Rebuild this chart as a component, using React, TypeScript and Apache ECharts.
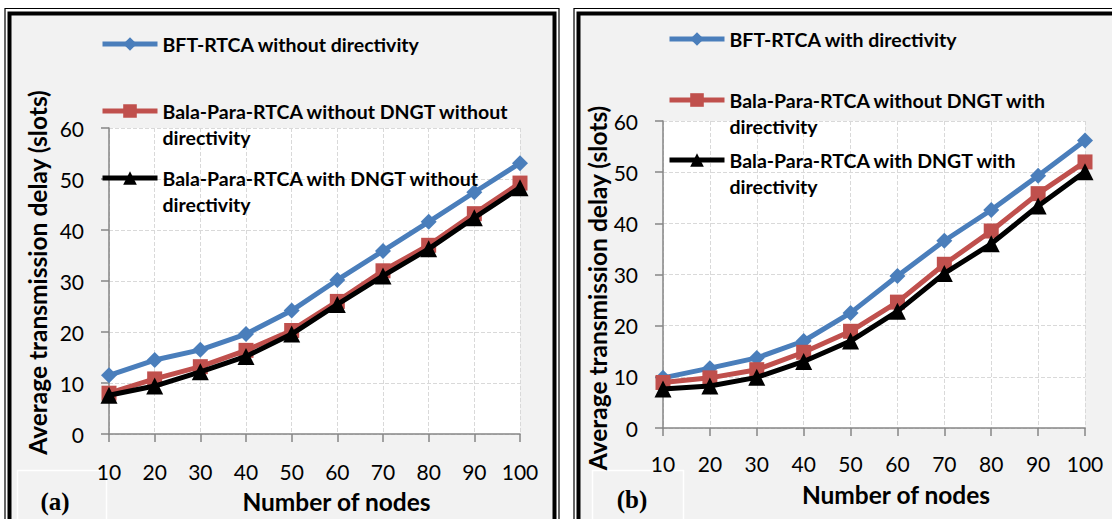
import React, { useEffect, useRef } from "react";
import * as echarts from "echarts";

const nodes = [10, 20, 30, 40, 50, 60, 70, 80, 90, 100];

const bftA = [11.5, 14.5, 16.5, 19.6, 24.2, 30.2, 35.9, 41.6, 47.4, 53.1];
const paraA = [8.0, 10.8, 13.2, 16.4, 20.3, 26.0, 32.0, 37.0, 43.2, 49.2];
const dngtA = [7.6, 9.4, 12.2, 15.2, 19.6, 25.4, 31.0, 36.3, 42.4, 48.3];

const bftB = [9.8, 11.7, 13.7, 17.0, 22.5, 29.7, 36.6, 42.6, 49.3, 56.2];
const paraB = [8.9, 9.8, 11.4, 14.8, 18.9, 24.6, 32.0, 38.5, 45.8, 52.0];
const dngtB = [7.6, 8.2, 9.9, 13.0, 17.0, 22.8, 30.2, 36.0, 43.4, 50.1];

const namesA = [
  "BFT-RTCA without directivity",
  "Bala-Para-RTCA without DNGT without directivity",
  "Bala-Para-RTCA with DNGT without directivity",
];
const namesB = [
  "BFT-RTCA with directivity",
  "Bala-Para-RTCA without DNGT with directivity",
  "Bala-Para-RTCA with DNGT with directivity",
];
const legendTextA = [
  "BFT-RTCA without directivity",
  "Bala-Para-RTCA without DNGT without\ndirectivity",
  "Bala-Para-RTCA with DNGT without\ndirectivity",
];
const legendTextB = [
  "BFT-RTCA with directivity",
  "Bala-Para-RTCA without DNGT with\ndirectivity",
  "Bala-Para-RTCA with DNGT with\ndirectivity",
];

const yTitle = "Average transmission delay (slots)";
const xTitle = "Number of nodes";
const panelLabels = ["(a)", "(b)"];

const FONT = "Lato, 'Open Sans', sans-serif";
const BLUE = "#4a7ebb";
const RED = "#c0504d";
const BLACK = "#000000";

function pairs(vals: number[]) {
  return vals.map((v, i) => [nodes[i], v]);
}

export default function App() {
  const ref = useRef<HTMLDivElement>(null);
  useEffect(() => {
    if (!ref.current) return;
    const chart = echarts.init(ref.current, null, { renderer: "svg" });

    const grids = [
      { left: 109, top: 128, width: 411, height: 306 },
      { left: 663, top: 121, width: 422, height: 307 },
    ];

    const xAxis = grids.map((g, i) => ({
      type: "value",
      gridIndex: i,
      min: 10,
      max: 100,
      interval: 10,
      name: xTitle,
      nameLocation: "middle",
      nameGap: i === 0 ? 55 : 54,
      nameTextStyle: {
        fontFamily: FONT,
        fontWeight: "bold",
        fontSize: 24.5,
        color: "#000",
        padding: [0, 0, 0, 44],
      },
      axisLine: { show: true, onZero: false, lineStyle: { color: "#868686", width: 1.5 } },
      axisTick: { show: true, length: 8, lineStyle: { color: "#868686", width: 1.5 } },
      axisLabel: { fontFamily: FONT, fontSize: 21, color: "#000", margin: i === 0 ? 27 : 25 },
      splitLine: { show: true, lineStyle: { color: "#d9d9d9", type: "dashed", width: 1 } },
    }));

    const yAxis = grids.map((g, i) => ({
      type: "value",
      gridIndex: i,
      min: 0,
      max: 60,
      interval: 10,
      name: yTitle,
      nameLocation: "middle",
      nameGap: i === 0 ? 59 : 49,
      nameTextStyle: {
        fontFamily: FONT,
        fontWeight: "bold",
        fontSize: 24.5,
        color: "#000",
        padding: i === 0 ? [0, 0, 0, 17] : [0, 27, 0, 0],
      },
      axisLine: { show: true, lineStyle: { color: "#868686", width: 1.5 } },
      axisTick: { show: true, length: 8, lineStyle: { color: "#868686", width: 1.5 } },
      axisLabel: { fontFamily: FONT, fontSize: 21, color: "#000", margin: 25 },
      splitLine: { show: true, lineStyle: { color: "#d9d9d9", type: "dashed", width: 1 } },
    }));

    const mk = (name: string, data: number[], idx: number, kind: number) => {
      const color = kind === 0 ? BLUE : kind === 1 ? RED : BLACK;
      return {
        type: "line",
        name,
        xAxisIndex: idx,
        yAxisIndex: idx,
        data: pairs(data),
        symbol: kind === 0 ? "diamond" : kind === 1 ? "rect" : "triangle",
        symbolSize: kind === 0 ? 16 : kind === 1 ? 15 : 17,
        lineStyle: { color, width: 5 },
        itemStyle: { color, borderColor: color, borderWidth: 0 },
        z: 2 + kind,
      };
    };

    const series = [
      mk(namesA[0], bftA, 0, 0),
      mk(namesA[1], paraA, 0, 1),
      mk(namesA[2], dngtA, 0, 2),
      mk(namesB[0], bftB, 1, 0),
      mk(namesB[1], paraB, 1, 1),
      mk(namesB[2], dngtB, 1, 2),
    ];

    // icon centre y for each entry
    const legendCenters = [
      [44, 111, 178],
      [39, 100, 160],
    ];
    const legendLefts = [100, 667];
    const LH = 26;
    const legends: any[] = [];
    [namesA, namesB].forEach((names, p) => {
      const texts = p === 0 ? legendTextA : legendTextB;
      names.forEach((n, k) => {
        const two = texts[k].includes("\n");
        const label = two ? "\n" + texts[k] : texts[k];
        const half = two ? LH * 1.5 : LH / 2;
        legends.push({
          data: [n],
          left: legendLefts[p],
          top: legendCenters[p][k] - half,
          orient: "vertical",
          padding: 0,
          itemWidth: 55,
          itemHeight: 17,
          selectedMode: false,
          lineStyle: { width: 5 },
          formatter: () => label,
          textStyle: {
            fontFamily: FONT,
            fontWeight: "bold",
            fontSize: 19.5,
            color: "#000",
            lineHeight: LH,
          },
        });
      });
    });

    const frame = (x0: number) => [
      {
        type: "rect",
        z: -20,
        shape: { x: x0 + 0.5, y: 8.5, width: 554, height: 540 },
        style: { fill: "#ffffff", stroke: "#000", lineWidth: 1.2 },
      },
      {
        type: "rect",
        z: -19,
        shape: { x: x0 + 5, y: 13.5, width: 545, height: 540 },
        style: { fill: "#f2f2f2", stroke: "#000", lineWidth: 4 },
      },
    ];

    const graphic: any[] = [
      ...frame(4.5),
      ...frame(573.5),
      {
        type: "rect",
        z: -5,
        shape: { x: 17.5, y: 470.5, width: 89, height: 60 },
        style: { fill: "#f2f2f2", stroke: "#ffffff", lineWidth: 1.5 },
      },
      {
        type: "rect",
        z: -5,
        shape: { x: 592.5, y: 470.5, width: 91, height: 60 },
        style: { fill: "#f2f2f2", stroke: "#ffffff", lineWidth: 1.5 },
      },
      {
        type: "text",
        z: 10,
        x: 55,
        y: 501,
        style: {
          text: panelLabels[0],
          fontFamily: "'Liberation Serif', 'DejaVu Serif', serif",
          fontWeight: "bold",
          fontSize: 25,
          fill: "#000",
          textAlign: "center",
          textVerticalAlign: "middle",
        },
      },
      {
        type: "text",
        z: 10,
        x: 632,
        y: 499,
        style: {
          text: panelLabels[1],
          fontFamily: "'Liberation Serif', 'DejaVu Serif', serif",
          fontWeight: "bold",
          fontSize: 25,
          fill: "#000",
          textAlign: "center",
          textVerticalAlign: "middle",
        },
      },
    ];

    chart.setOption({
      animation: false,
      backgroundColor: "#ffffff",
      grid: grids.map((g) => ({
        ...g,
        show: true,
        backgroundColor: "#ffffff",
        borderWidth: 0,
        containLabel: false,
        outerBoundsMode: "none",
      })),
      xAxis,
      yAxis,
      legend: legends,
      graphic,
      series,
    });

    return () => chart.dispose();
  }, []);

  return (
    <div
      ref={ref}
      style={{ position: "fixed", left: 0, top: 0, width: 1112, height: 519 }}
    />
  );
}
